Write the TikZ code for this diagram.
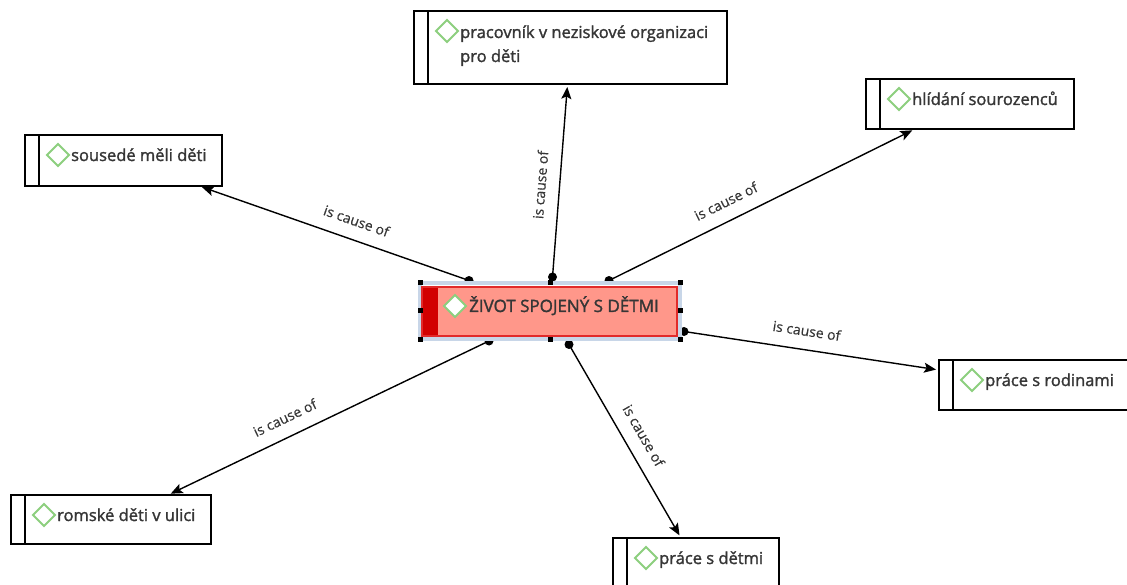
\documentclass[tikz,border=0pt]{standalone}
\usepackage{fontspec}
\setmainfont{Open Sans}
\newfontfamily\boxfont{Open Sans}[FakeBold=1.6]
\newfontfamily\lblfont{Open Sans}[FakeBold=0.4]
\usetikzlibrary{calc,arrows.meta}
\definecolor{dgreen}{HTML}{8DCF7E}
\definecolor{selblue}{HTML}{C8D6E8}
\definecolor{salmon}{HTML}{FF978A}
\definecolor{darkred}{HTML}{D20000}
\definecolor{redline}{HTML}{E22A2A}
\definecolor{ink}{HTML}{363636}

\begin{document}
\begin{tikzpicture}[x=1pt,y=-1pt,
  concept/.style={draw,line width=1.4pt,fill=white,anchor=north west,inner sep=0pt,outer sep=0pt,
    path picture={
      \draw[line width=1.4pt] ([xshift=14pt]path picture bounding box.north west) -- ([xshift=14pt]path picture bounding box.south west);
      \draw[dgreen,line width=1.8pt] ($(path picture bounding box.north west)+(22,20)$) -- ++(11,-11) -- ++(11,11) -- ++(-11,11) -- cycle;
    }},
  core/.style={fill=salmon,draw=redline,line width=1.2pt,minimum width=255pt,minimum height=49pt,inner sep=0pt,outer sep=0pt,
    path picture={
      \fill[darkred] (path picture bounding box.north west) rectangle ($(path picture bounding box.south west)+(16,0)$);
      \draw[dgreen,line width=1.8pt,fill=white] ($(path picture bounding box.north west)+(22,19)$) -- ++(11,-11) -- ++(11,11) -- ++(-11,11) -- cycle;
    }},
  selframe/.style={draw=selblue,line width=4pt,minimum width=260pt,minimum height=56pt,inner sep=0pt,outer sep=0pt},
  ctext/.style={anchor=base west,inner sep=0pt,align=left,text=ink,font=\boxfont\fontsize{16.5}{24}\selectfont},
  coretext/.style={anchor=base west,inner sep=0pt,text=ink,font=\boxfont\fontsize{17}{20}\selectfont},
  lbl/.style={sloped,above=11pt,inner sep=2pt,text=ink,font=\lblfont\fontsize{14}{16}\selectfont},
  cause/.style={line width=1.4pt,shorten >=3pt,-{Stealth[length=12pt,width=10pt,inset=2.5pt]}},
  dot/.style={circle,fill=black,inner sep=0pt,minimum size=9pt},
  handle/.style={fill=black,inner sep=0pt,minimum size=5pt}]
\clip (0,0) rectangle (1127,585);

\node[concept,minimum width=313pt,minimum height=73pt] (prac) at (414,11) {};
\node[ctext] (pracT) at ($(prac.north west)+(46,51)$) {pracovník v neziskové organizaci\\pro děti};
\node[concept,minimum width=208pt,minimum height=50pt] (hlid) at (866,79) {};
\node[ctext] (hlidT) at ($(hlid.north west)+(46,26)$) {hlídání sourozenců};
\node[concept,minimum width=197pt,minimum height=51pt] (sous) at (25,135) {};
\node[ctext] (sousT) at ($(sous.north west)+(46,26)$) {sousedé měli děti};
\node[concept,minimum width=200pt,minimum height=50pt] (rodin) at (939,360) {};
\node[ctext] (rodinT) at ($(rodin.north west)+(46,26)$) {práce s rodinami};
\node[concept,minimum width=200pt,minimum height=49pt] (rom) at (11,495) {};
\node[ctext] (romT) at ($(rom.north west)+(46,26)$) {romské děti v ulici};
\node[concept,minimum width=166pt,minimum height=60pt] (det) at (613,538) {};
\node[ctext] (detT) at ($(det.north west)+(46,26)$) {práce s dětmi};

\node[dot] (d1) at (552.5,277) {};
\node[dot] (d2) at (609,280.5) {};
\node[dot] (d3) at (469,280.5) {};
\node[dot] (d4) at (684,331.5) {};
\node[dot] (d5) at (569,344.5) {};
\node[dot] (d6) at (489,341) {};

\draw[cause] (d1.center) -- ($(prac.south)+(-3,0)$) node[lbl,pos=0.47] {is cause of};
\draw[cause] (d2.center) -- ($(hlid.south west)+(49,0)$) node[lbl,pos=0.41] {is cause of};
\draw[cause] (d3.center) -- ($(sous.south west)+(174,0)$) node[lbl,pos=0.44] {is cause of};
\draw[cause] (d4.center) -- ($(rodin.west)+(0,-15)$) node[lbl,pos=0.47] {is cause of};
\draw[cause] (d5.center) -- ($(det.north west)+(68,0)$) node[lbl,pos=0.52] {is cause of};
\draw[cause] (d6.center) -- ($(rom.north west)+(157,0)$) node[lbl,pos=0.61] {is cause of};

\node[selframe] (sel) at (550,311) {};
\node[core] (life) at (549.5,311.5) {};
\node[coretext] (lifeT) at ($(life.north west)+(47,25)$) {ŽIVOT SPOJENÝ S DĚTMI};
\foreach \a [count=\i] in {north west,north,north east,east,south east,south,south west,west}
  \node[handle] (hd\i) at (sel.\a) {};
\end{tikzpicture}
\end{document}
